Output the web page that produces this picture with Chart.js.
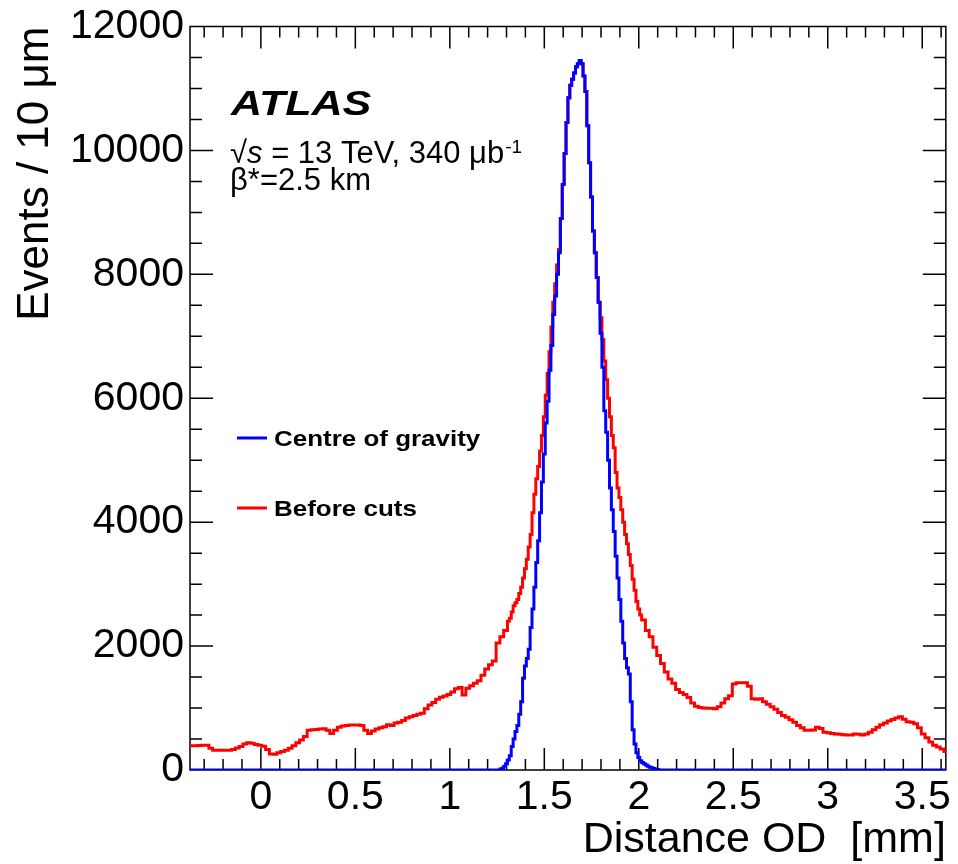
<!DOCTYPE html>
<html>
<head>
<meta charset="utf-8">
<script src="https://cdn.jsdelivr.net/npm/chart.js@4.4.1/dist/chart.umd.min.js"></script>
<style>
  html, body { margin: 0; padding: 0; background: #fff; }
  #wrap { width: 958px; height: 864px; position: relative; }
</style>
</head>
<body>
<div id="wrap"><canvas id="odChart"></canvas></div>
<script>
// x range and tick labels [mm]
const xMin = -0.375, xMax = 3.625;
const xTickValues = [0, 0.5, 1, 1.5, 2, 2.5, 3, 3.5];
const yTickValues = [0, 2000, 4000, 6000, 8000, 10000, 12000];

// Centre of gravity: 10 um bins starting at 1.245 mm
const blueStart = 1.245, blueWidth = 0.01;
const blueCounts = [
    0, 0, 15, 30, 60,
    100, 160, 230, 380, 500, 620, 720, 900, 1100, 1480,
    1680, 1800, 1950, 2300, 2600, 2950, 3350, 3700, 4150, 4650,
    5100, 5600, 5950, 6450, 6850, 7350, 7650, 8000, 8350, 8900,
    9450, 9950, 10450, 10850, 11050, 11150, 11250, 11350, 11400, 11450,
    11400, 11200, 10950, 10400, 9800, 9250, 8700, 8350, 7950, 7550,
    7050, 6500, 5800, 5450, 5000, 4550, 4200, 3850, 3450, 3100,
    2750, 2400, 2050, 1800, 1650, 1550, 1100, 650, 420, 280,
    200, 150, 120, 100, 80, 60, 45, 35, 25, 15, 8, 0
];

// Before cuts: left tail read in 20 um steps from -0.375 mm
const redLeftStart = -0.375, redLeftWidth = 0.02;
const redLeftCounts = [
    390, 390, 395, 400, 400, 350, 320, 320, 320, 320,
    320, 330, 355, 380, 420, 440, 430, 410, 400, 385,
    330, 260, 255, 280, 300, 320, 350, 390, 440, 485,
    540, 640, 650, 655, 660, 665, 640, 590, 640, 690,
    710, 720, 725, 725, 725, 720, 640, 590, 630, 660,
    680, 700, 730, 720, 760, 770, 800, 840, 860, 880,
    900, 915, 990, 1050, 1090, 1140, 1175, 1195, 1220, 1260,
    1310, 1330, 1210, 1320, 1360, 1400, 1440, 1530, 1630, 1700,
    1760, 2050, 2150, 2250
];
// peak in 10 um steps from 1.305 mm
const redPeakStart = 1.305, redPeakWidth = 0.01;
const redPeakCounts = [
    2400, 2450, 2550, 2650, 2700, 2750, 2850, 2950, 3100,
    3250, 3400, 3600, 3800, 4150, 4450, 4700, 4900, 5150, 5400,
    5700, 6050, 6400, 6750, 7150, 7550, 7850, 8150, 8400, 8900,
    9450, 9950, 10450, 10850, 11050, 11150, 11250, 11350, 11400, 11450,
    11400, 11200, 10950, 10400, 9800, 9250, 8700, 8350, 7950, 7550,
    7300, 6950, 6600, 6300, 6000, 5700, 5400, 5200, 4800, 4550,
    4400, 4200, 4000, 3800, 3650, 3480, 3300, 3080, 2900, 2720,
    2600, 2500
];
// right tail in 20 um steps from 2.015 mm
const redRightStart = 2.015, redRightWidth = 0.02;
const redRightCounts = [
    2420, 2250, 2150, 1980, 1850, 1720, 1580, 1470, 1400, 1300,
    1250, 1220, 1170, 1080, 1030, 1010, 1000, 995, 995, 990,
    1020, 1080, 1150, 1200, 1390, 1410, 1410, 1410, 1350, 1150,
    1140, 1150, 1100, 1060, 1020, 980, 930, 880, 850, 810,
    770, 720, 680, 640, 640, 645, 690, 670, 610, 600,
    590, 580, 575, 570, 565, 565, 580, 575, 565, 580,
    610, 650, 690, 730, 760, 790, 815, 840, 860, 820,
    780, 770, 745, 680, 580, 520, 450, 400, 370, 340,
    300
];

const FONT = "'Liberation Sans', Arial, Helvetica, sans-serif";

// histogram bins -> step points at bin left edges
function binPoints(start, width, counts) {
    return counts.map((c, i) => ({ x: start + i * width, y: c }));
}

const bluePoints = [{ x: xMin, y: 0 }]
    .concat(binPoints(blueStart, blueWidth, blueCounts))
    .concat([{ x: xMax, y: 0 }]);

const redPoints = binPoints(redLeftStart, redLeftWidth, redLeftCounts)
    .concat(binPoints(redPeakStart, redPeakWidth, redPeakCounts))
    .concat(binPoints(redRightStart, redRightWidth, redRightCounts));
redPoints.push({ x: redRightStart + redRightCounts.length * redRightWidth, y: redRightCounts[redRightCounts.length - 1] });

// ROOT style frame with inward ticks on all four sides
const frameTicks = {
    id: 'frameTicks',
    beforeDatasetsDraw(chart) {
        const ctx = chart.ctx;
        const { left, right, top, bottom } = chart.chartArea;
        const xs = chart.scales.x, ys = chart.scales.y;
        ctx.save();
        ctx.strokeStyle = '#000';
        ctx.lineWidth = 1.5;
        ctx.beginPath();
        for (let i = -3; i <= 36; i++) {
            const px = xs.getPixelForValue(i / 10);
            const len = i % 5 === 0 ? 22 : 11;
            ctx.moveTo(px, bottom); ctx.lineTo(px, bottom - len);
            ctx.moveTo(px, top); ctx.lineTo(px, top + len);
        }
        for (let i = 1; i < 24; i++) {
            const py = ys.getPixelForValue(i * 500);
            const len = i % 4 === 0 ? 23 : 12;
            ctx.moveTo(left, py); ctx.lineTo(left + len, py);
            ctx.moveTo(right, py); ctx.lineTo(right - len, py);
        }
        ctx.stroke();
        ctx.strokeRect(left, top, right - left, bottom - top);
        ctx.restore();
    }
};

function wideText(ctx, text, x, y, sx) {
    ctx.save();
    ctx.translate(x, y);
    ctx.scale(sx, 1);
    ctx.fillText(text, 0, 0);
    ctx.restore();
}

// ATLAS label, run info and legend inside the frame
const labels = {
    id: 'labels',
    afterDraw(chart) {
        const ctx = chart.ctx;
        ctx.save();
        ctx.fillStyle = '#000';
        ctx.textBaseline = 'alphabetic';
        ctx.textAlign = 'left';

        ctx.font = 'italic bold 35px ' + FONT;
        wideText(ctx, 'ATLAS', 231, 115, 1.23);

        ctx.font = '31px ' + FONT;
        let x = 230;
        ctx.fillText('\u221A', x, 163);
        x += ctx.measureText('\u221A').width;
        ctx.font = 'italic 31px ' + FONT;
        ctx.fillText('s', x, 163);
        x += ctx.measureText('s').width;
        ctx.font = '31px ' + FONT;
        const rest = ' = 13 TeV, 340 \u03BCb';
        ctx.fillText(rest, x, 163);
        x += ctx.measureText(rest).width;
        ctx.font = '19px ' + FONT;
        ctx.fillText('-1', x + 1, 153);

        ctx.font = '31px ' + FONT;
        ctx.fillText('\u03B2*=2.5 km', 230, 190);

        // legend
        const rows = [
            { ds: chart.data.datasets[0], y: 438 },
            { ds: chart.data.datasets[1], y: 508 }
        ];
        ctx.font = 'bold 22px ' + FONT;
        rows.forEach(r => {
            ctx.strokeStyle = r.ds.borderColor;
            ctx.lineWidth = 3;
            ctx.beginPath();
            ctx.moveTo(237, r.y); ctx.lineTo(267, r.y);
            ctx.stroke();
            wideText(ctx, r.ds.label, 274, r.y + 8, 1.18);
        });
        ctx.restore();
    }
};

new Chart(document.getElementById('odChart'), {
    type: 'line',
    data: {
        datasets: [
            {
                label: 'Centre of gravity',
                data: bluePoints,
                borderColor: '#0000ff',
                borderWidth: 3,
                stepped: 'before',
                pointRadius: 0,
                fill: false
            },
            {
                label: 'Before cuts',
                data: redPoints,
                borderColor: '#ff0000',
                borderWidth: 3,
                stepped: 'before',
                pointRadius: 0,
                fill: false
            }
        ]
    },
    options: {
        responsive: true,
        maintainAspectRatio: false,
        animation: false,
        devicePixelRatio: 1,
        layout: { padding: { left: 0, right: 9, top: 26, bottom: 0 } },
        plugins: {
            legend: { display: false },
            tooltip: { enabled: false }
        },
        scales: {
            x: {
                type: 'linear',
                min: xMin,
                max: xMax,
                afterBuildTicks: s => { s.ticks = xTickValues.map(v => ({ value: v })); },
                afterFit: s => { s.height = 94; },
                grid: { display: false, drawTicks: false },
                border: { display: false },
                ticks: {
                    color: '#000',
                    padding: 7,
                    maxRotation: 0,
                    autoSkip: false,
                    font: { family: FONT, size: 41, lineHeight: 1 },
                    callback: v => String(v)
                },
                title: {
                    display: true,
                    text: 'Distance OD  [mm]',
                    align: 'end',
                    color: '#000',
                    padding: { top: 0, bottom: 2 },
                    font: { family: FONT, size: 43, lineHeight: 1 }
                }
            },
            y: {
                min: 0,
                max: 12000,
                afterBuildTicks: s => { s.ticks = yTickValues.map(v => ({ value: v })); },
                afterFit: s => { s.width = 190; },
                grid: { display: false, drawTicks: false },
                border: { display: false },
                ticks: {
                    color: '#000',
                    padding: 6,
                    autoSkip: false,
                    font: { family: FONT, size: 41, lineHeight: 1 },
                    callback: v => String(v)
                },
                title: {
                    display: true,
                    text: 'Events / 10 \u03BCm',
                    align: 'end',
                    color: '#000',
                    padding: { top: 14, bottom: 0 },
                    font: { family: FONT, size: 44, lineHeight: 1 }
                }
            }
        }
    },
    plugins: [frameTicks, labels]
});
</script>
</body>
</html>
